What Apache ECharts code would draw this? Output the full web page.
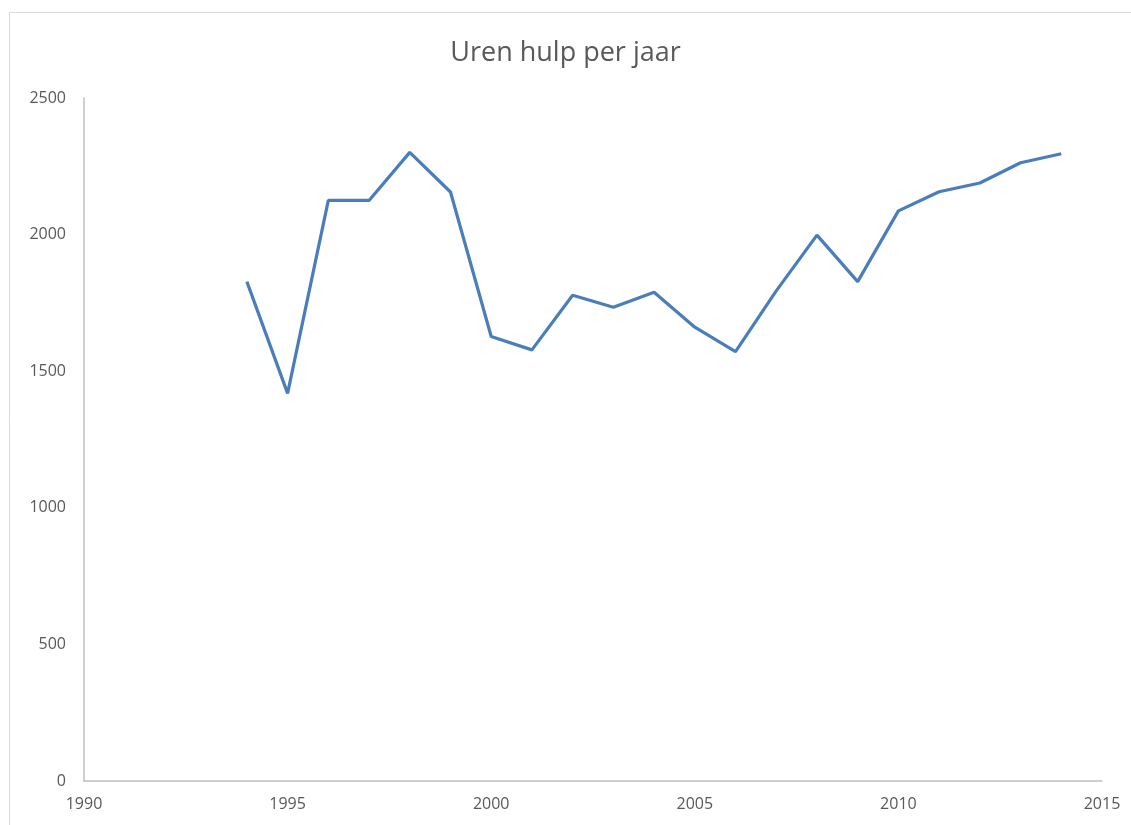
<!DOCTYPE html>
<html>
<head>
<meta charset="utf-8">
<script src="https://cdn.jsdelivr.net/npm/echarts@6/dist/echarts.min.js"></script>
<style>
  html, body { margin: 0; padding: 0; background: #fff; }
  #chart { width: 1131px; height: 825px; }
</style>
</head>
<body>
<div id="chart"></div>
<script>
// jaren en uren hulp
var years = [1994, 1995, 1996, 1997, 1998, 1999, 2000, 2001, 2002, 2003, 2004,
             2005, 2006, 2007, 2008, 2009, 2010, 2011, 2012, 2013, 2014]
var hours = [1828, 1419, 2125, 2125, 2301, 2156, 1627, 1578, 1778, 1734, 1789,
             1661, 1572, 1794, 1998, 1828, 2087, 2157, 2189, 2263, 2296]
var titleText = "Uren hulp per jaar"

var chart = echarts.init(document.getElementById("chart"))
var textColor = "#595959"
var axisColor = "#bfbfbf"

// geen duizendtalscheiding
function plain(v) { return String(v) }

var option = {
    animation: false,
    backgroundColor: "#fff",
    title: {
        text: titleText,
        left: "center",
        top: 35,
        textStyle: {
            fontFamily: "Open Sans",
            fontSize: 27,
            fontWeight: "normal",
            color: textColor
        }
    },
    // kader rond de grafiek
    graphic: [{
        type: "rect",
        shape: { x: 9.5, y: 12.5, width: 1300, height: 900 },
        style: { fill: "none", stroke: "#d9d9d9", lineWidth: 1 },
        silent: true
    }],
    grid: {
        left: 84,
        right: 29,
        top: 98,
        bottom: 44
    },
    xAxis: {
        type: "value",
        min: 1990,
        max: 2015,
        interval: 5,
        axisLine: { show: true, lineStyle: { color: axisColor, width: 1.5 } },
        axisTick: { show: false },
        splitLine: { show: false },
        axisLabel: {
            color: textColor,
            fontFamily: "Open Sans",
            fontSize: 16,
            margin: 15,
            formatter: plain
        }
    },
    yAxis: {
        type: "value",
        min: 0,
        max: 2500,
        interval: 500,
        axisLine: { show: true, lineStyle: { color: axisColor, width: 1.5 } },
        axisTick: { show: false },
        splitLine: { show: false },
        axisLabel: {
            color: textColor,
            fontFamily: "Open Sans",
            fontSize: 16,
            margin: 18,
            formatter: plain
        }
    },
    series: [{
        type: "line",
        data: years.map(function (y, i) { return [y, hours[i]] }),
        showSymbol: false,
        symbol: "none",
        lineStyle: { color: "#4a7ebb", width: 3.2 }
    }]
}
chart.setOption(option)
</script>
</body>
</html>
